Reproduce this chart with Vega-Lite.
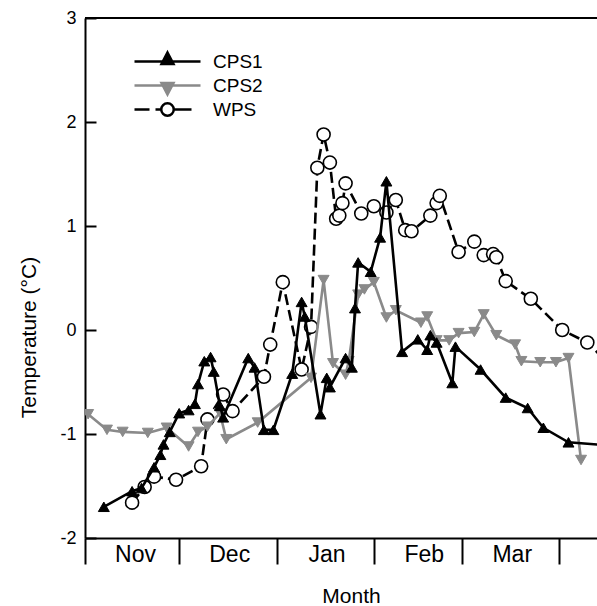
{
  "$schema": "https://vega.github.io/schema/vega-lite/v6.json",
  "width": 512,
  "height": 520,
  "autosize": {"type": "none"},
  "padding": {"left": 85, "top": 18, "right": 0, "bottom": 68},
  "background": "white",
  "config": {
    "font": "Liberation Sans",
    "view": {"stroke": null},
    "axis": {
      "domainColor": "black", "domainWidth": 2, "tickColor": "black", "tickWidth": 2,
      "labelColor": "black", "titleColor": "black", "grid": false,
      "labelFont": "Liberation Sans", "titleFont": "Liberation Sans", "titleFontWeight": "normal"
    },
    "legend": {
      "orient": "none", "legendX": 73, "legendY": 34, "symbolSize": 100, "symbolStrokeWidth": 2.5,
      "labelOffset": 36, "labelFontSize": 19, "labelFont": "Liberation Sans", "labelColor": "black",
      "rowPadding": -10, "symbolOpacity": 1
    }
  },
  "datasets": {
    "temps": [
      {"series": "CPS1", "date": "2000-11-07", "temp": -1.70},
      {"series": "CPS1", "date": "2000-11-16", "temp": -1.55},
      {"series": "CPS1", "date": "2000-11-19", "temp": -1.52},
      {"series": "CPS1", "date": "2000-11-23", "temp": -1.32},
      {"series": "CPS1", "date": "2000-11-25", "temp": -1.20},
      {"series": "CPS1", "date": "2000-11-26", "temp": -1.10},
      {"series": "CPS1", "date": "2000-11-28", "temp": -0.98},
      {"series": "CPS1", "date": "2000-12-01", "temp": -0.80},
      {"series": "CPS1", "date": "2000-12-04", "temp": -0.77},
      {"series": "CPS1", "date": "2000-12-06", "temp": -0.71},
      {"series": "CPS1", "date": "2000-12-07", "temp": -0.52},
      {"series": "CPS1", "date": "2000-12-09", "temp": -0.30},
      {"series": "CPS1", "date": "2000-12-11", "temp": -0.26},
      {"series": "CPS1", "date": "2000-12-12", "temp": -0.40},
      {"series": "CPS1", "date": "2000-12-14", "temp": -0.73},
      {"series": "CPS1", "date": "2000-12-15", "temp": -0.84},
      {"series": "CPS1", "date": "2000-12-23", "temp": -0.27},
      {"series": "CPS1", "date": "2000-12-25", "temp": -0.36},
      {"series": "CPS1", "date": "2000-12-28", "temp": -0.96},
      {"series": "CPS1", "date": "2000-12-31", "temp": -0.96},
      {"series": "CPS1", "date": "2001-01-06", "temp": -0.42},
      {"series": "CPS1", "date": "2001-01-09", "temp": 0.27},
      {"series": "CPS1", "date": "2001-01-10", "temp": 0.13},
      {"series": "CPS1", "date": "2001-01-15", "temp": -0.81},
      {"series": "CPS1", "date": "2001-01-17", "temp": -0.46},
      {"series": "CPS1", "date": "2001-01-18", "temp": -0.55},
      {"series": "CPS1", "date": "2001-01-23", "temp": -0.27},
      {"series": "CPS1", "date": "2001-01-25", "temp": -0.36},
      {"series": "CPS1", "date": "2001-01-26", "temp": 0.21},
      {"series": "CPS1", "date": "2001-01-27", "temp": 0.65},
      {"series": "CPS1", "date": "2001-01-31", "temp": 0.56},
      {"series": "CPS1", "date": "2001-02-03", "temp": 0.89},
      {"series": "CPS1", "date": "2001-02-05", "temp": 1.43},
      {"series": "CPS1", "date": "2001-02-10", "temp": -0.21},
      {"series": "CPS1", "date": "2001-02-15", "temp": -0.09},
      {"series": "CPS1", "date": "2001-02-18", "temp": -0.19},
      {"series": "CPS1", "date": "2001-02-19", "temp": -0.05},
      {"series": "CPS1", "date": "2001-02-21", "temp": -0.12},
      {"series": "CPS1", "date": "2001-02-26", "temp": -0.51},
      {"series": "CPS1", "date": "2001-02-27", "temp": -0.16},
      {"series": "CPS1", "date": "2001-03-07", "temp": -0.38},
      {"series": "CPS1", "date": "2001-03-15", "temp": -0.65},
      {"series": "CPS1", "date": "2001-03-22", "temp": -0.75},
      {"series": "CPS1", "date": "2001-03-27", "temp": -0.94},
      {"series": "CPS1", "date": "2001-04-04", "temp": -1.08},
      {"series": "CPS1", "date": "2001-04-17", "temp": -1.11},
      {"series": "CPS2", "date": "2000-11-02", "temp": -0.81},
      {"series": "CPS2", "date": "2000-11-08", "temp": -0.96},
      {"series": "CPS2", "date": "2000-11-13", "temp": -0.98},
      {"series": "CPS2", "date": "2000-11-21", "temp": -0.99},
      {"series": "CPS2", "date": "2000-11-27", "temp": -0.94},
      {"series": "CPS2", "date": "2000-12-04", "temp": -1.12},
      {"series": "CPS2", "date": "2000-12-07", "temp": -0.98},
      {"series": "CPS2", "date": "2000-12-10", "temp": -0.93},
      {"series": "CPS2", "date": "2000-12-14", "temp": -0.80},
      {"series": "CPS2", "date": "2000-12-16", "temp": -1.05},
      {"series": "CPS2", "date": "2000-12-26", "temp": -0.89},
      {"series": "CPS2", "date": "2001-01-12", "temp": -0.46},
      {"series": "CPS2", "date": "2001-01-16", "temp": 0.48},
      {"series": "CPS2", "date": "2001-01-19", "temp": -0.32},
      {"series": "CPS2", "date": "2001-01-23", "temp": -0.43},
      {"series": "CPS2", "date": "2001-01-24", "temp": -0.30},
      {"series": "CPS2", "date": "2001-01-27", "temp": 0.34},
      {"series": "CPS2", "date": "2001-01-29", "temp": 0.39},
      {"series": "CPS2", "date": "2001-02-01", "temp": 0.46},
      {"series": "CPS2", "date": "2001-02-05", "temp": 0.12},
      {"series": "CPS2", "date": "2001-02-08", "temp": 0.19},
      {"series": "CPS2", "date": "2001-02-16", "temp": 0.07},
      {"series": "CPS2", "date": "2001-02-18", "temp": 0.13},
      {"series": "CPS2", "date": "2001-02-21", "temp": -0.10},
      {"series": "CPS2", "date": "2001-02-25", "temp": -0.10},
      {"series": "CPS2", "date": "2001-02-28", "temp": -0.03},
      {"series": "CPS2", "date": "2001-03-05", "temp": -0.02},
      {"series": "CPS2", "date": "2001-03-08", "temp": 0.15},
      {"series": "CPS2", "date": "2001-03-12", "temp": -0.05},
      {"series": "CPS2", "date": "2001-03-18", "temp": -0.14},
      {"series": "CPS2", "date": "2001-03-20", "temp": -0.30},
      {"series": "CPS2", "date": "2001-03-26", "temp": -0.31},
      {"series": "CPS2", "date": "2001-03-31", "temp": -0.31},
      {"series": "CPS2", "date": "2001-04-04", "temp": -0.27},
      {"series": "CPS2", "date": "2001-04-08", "temp": -1.25},
      {"series": "WPS", "date": "2000-11-16", "temp": -1.66},
      {"series": "WPS", "date": "2000-11-20", "temp": -1.51},
      {"series": "WPS", "date": "2000-11-23", "temp": -1.41},
      {"series": "WPS", "date": "2000-11-30", "temp": -1.44},
      {"series": "WPS", "date": "2000-12-08", "temp": -1.31},
      {"series": "WPS", "date": "2000-12-10", "temp": -0.86},
      {"series": "WPS", "date": "2000-12-15", "temp": -0.62},
      {"series": "WPS", "date": "2000-12-18", "temp": -0.78},
      {"series": "WPS", "date": "2000-12-28", "temp": -0.45},
      {"series": "WPS", "date": "2000-12-30", "temp": -0.14},
      {"series": "WPS", "date": "2001-01-03", "temp": 0.46},
      {"series": "WPS", "date": "2001-01-09", "temp": -0.38},
      {"series": "WPS", "date": "2001-01-12", "temp": 0.03},
      {"series": "WPS", "date": "2001-01-14", "temp": 1.56},
      {"series": "WPS", "date": "2001-01-16", "temp": 1.88},
      {"series": "WPS", "date": "2001-01-18", "temp": 1.61},
      {"series": "WPS", "date": "2001-01-20", "temp": 1.07},
      {"series": "WPS", "date": "2001-01-21", "temp": 1.10},
      {"series": "WPS", "date": "2001-01-22", "temp": 1.22},
      {"series": "WPS", "date": "2001-01-23", "temp": 1.41},
      {"series": "WPS", "date": "2001-01-28", "temp": 1.12},
      {"series": "WPS", "date": "2001-02-01", "temp": 1.19},
      {"series": "WPS", "date": "2001-02-05", "temp": 1.13},
      {"series": "WPS", "date": "2001-02-08", "temp": 1.25},
      {"series": "WPS", "date": "2001-02-11", "temp": 0.96},
      {"series": "WPS", "date": "2001-02-13", "temp": 0.95},
      {"series": "WPS", "date": "2001-02-19", "temp": 1.10},
      {"series": "WPS", "date": "2001-02-21", "temp": 1.22},
      {"series": "WPS", "date": "2001-02-22", "temp": 1.29},
      {"series": "WPS", "date": "2001-02-28", "temp": 0.75},
      {"series": "WPS", "date": "2001-03-05", "temp": 0.85},
      {"series": "WPS", "date": "2001-03-08", "temp": 0.72},
      {"series": "WPS", "date": "2001-03-11", "temp": 0.73},
      {"series": "WPS", "date": "2001-03-12", "temp": 0.70},
      {"series": "WPS", "date": "2001-03-15", "temp": 0.47},
      {"series": "WPS", "date": "2001-03-23", "temp": 0.30},
      {"series": "WPS", "date": "2001-04-02", "temp": 0.00},
      {"series": "WPS", "date": "2001-04-10", "temp": -0.12},
      {"series": "WPS", "date": "2001-04-16", "temp": -0.30}
    ]
  },
  "data": {"name": "temps"},
  "layer": [
    {
      "data": {"values": [{}]},
      "mark": {"type": "rule", "color": "black", "strokeWidth": 2},
      "encoding": {"y": {"datum": 3, "type": "quantitative"}}
    },
    {
      "transform": [{"filter": "datum.series === 'WPS'"}],
      "mark": {"type": "line", "color": "black", "strokeWidth": 2.6, "strokeDash": [11, 5], "clip": true},
      "encoding": {
        "x": {
          "field": "date", "type": "temporal",
          "scale": {"type": "utc", "domain": [{"year": 2000, "month": 11, "date": 1, "utc": true}, {"year": 2001, "month": 4, "date": 13, "hours": 2, "utc": true}]},
          "axis": {
            "values": [
              {"year": 2000, "month": 11, "date": 1, "utc": true},
              {"year": 2000, "month": 12, "date": 1, "utc": true},
              {"year": 2001, "month": 1, "date": 1, "utc": true},
              {"year": 2001, "month": 2, "date": 1, "utc": true},
              {"year": 2001, "month": 3, "date": 1, "utc": true},
              {"year": 2001, "month": 4, "date": 1, "utc": true}
            ],
            "labelExpr": "utcmonth(datum.value) == 3 ? '' : utcFormat(datum.value, '%b')",
            "labelOffset": 50, "labelFlush": false, "labelOverlap": false, "labelBound": false,
            "tickSize": 26, "labelPadding": -21, "labelFontSize": 23, "labelBaseline": "top",
            "title": "Month", "titleFontSize": 21, "titleX": 266, "titleY": 64, "titleBaseline": "alphabetic", "titleAnchor": null
          }
        },
        "y": {
          "field": "temp", "type": "quantitative",
          "scale": {"domain": [-2, 3], "nice": false, "zero": false},
          "axis": {
            "values": [-2, -1, 0, 1, 2, 3],
            "labelExpr": "'' + datum.value",
            "tickSize": -11, "labelPadding": 20, "labelFontSize": 18,
            "title": "Temperature (°C)", "titleFontSize": 21, "titleX": -50, "titleY": 319,
            "titleAngle": 270, "titleBaseline": "alphabetic", "titleAlign": "center"
          }
        }
      }
    },
    {
      "transform": [{"filter": "datum.series === 'WPS'"}],
      "mark": {"type": "point", "shape": "circle", "filled": true, "fill": "white", "stroke": "black", "strokeWidth": 1.6, "size": 170, "opacity": 1, "clip": true},
      "encoding": {"x": {"field": "date", "type": "temporal"}, "y": {"field": "temp", "type": "quantitative"}}
    },
    {
      "transform": [{"filter": "datum.series === 'CPS2'"}],
      "mark": {"type": "line", "color": "#8a8a8a", "strokeWidth": 2.6, "clip": true},
      "encoding": {"x": {"field": "date", "type": "temporal"}, "y": {"field": "temp", "type": "quantitative"}}
    },
    {
      "transform": [{"filter": "datum.series === 'CPS2'"}],
      "mark": {"type": "point", "shape": "triangle-down", "filled": true, "fill": "#8a8a8a", "stroke": "#8a8a8a", "strokeWidth": 1, "size": 120, "opacity": 1, "clip": true},
      "encoding": {"x": {"field": "date", "type": "temporal"}, "y": {"field": "temp", "type": "quantitative"}}
    },
    {
      "transform": [{"filter": "datum.series === 'CPS1'"}],
      "mark": {"type": "line", "color": "black", "strokeWidth": 2.6, "clip": true},
      "encoding": {"x": {"field": "date", "type": "temporal"}, "y": {"field": "temp", "type": "quantitative"}}
    },
    {
      "transform": [{"filter": "datum.series === 'CPS1'"}],
      "mark": {"type": "point", "shape": "triangle-up", "filled": true, "fill": "black", "stroke": "black", "strokeWidth": 1, "size": 120, "opacity": 1, "clip": true},
      "encoding": {"x": {"field": "date", "type": "temporal"}, "y": {"field": "temp", "type": "quantitative"}}
    },
    {
      "mark": {"type": "point", "size": 0, "clip": true},
      "encoding": {
        "x": {"field": "date", "type": "temporal"},
        "y": {"field": "temp", "type": "quantitative"},
        "shape": {
          "field": "series", "type": "nominal",
          "scale": {"domain": ["CPS1", "CPS2", "WPS"], "range": [
            "M-6.6,0H6.6M0,-1.8L1.2,0.5L-1.2,0.5ZM0,1.8",
            "M0,-1.8M-6.6,0H6.6M0,1.8L1.2,-0.5L-1.2,-0.5Z",
            "M0,-1.8M0,1.8M-6.6,0H-3.6M-2.4,0H-1.3M1.4,0H4.8M1.25,0A1.25,1.25,0,1,1,-1.25,0A1.25,1.25,0,1,1,1.25,0Z"
          ]},
          "legend": {"title": null}
        },
        "fill": {
          "field": "series", "type": "nominal",
          "scale": {"domain": ["CPS1", "CPS2", "WPS"], "range": ["black", "#8a8a8a", "white"]},
          "legend": {"title": null}
        },
        "stroke": {
          "field": "series", "type": "nominal",
          "scale": {"domain": ["CPS1", "CPS2", "WPS"], "range": ["black", "#8a8a8a", "black"]},
          "legend": {"title": null}
        }
      }
    }
  ]
}
